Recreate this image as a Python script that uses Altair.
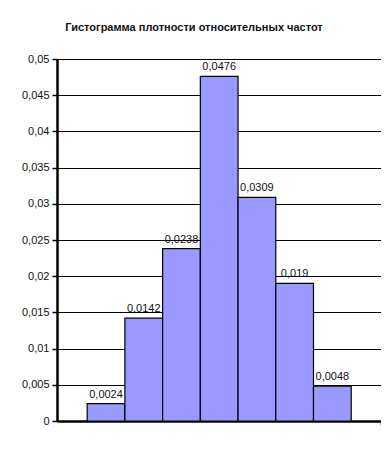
import altair as alt
import pandas as pd

bins = [1, 2, 3, 4, 5, 6, 7]
density = [0.0024, 0.0142, 0.0238, 0.0476, 0.0309, 0.019, 0.0048]
labels = ["0,0024", "0,0142", "0,0238", "0,0476", "0,0309", "0,019", "0,0048"]
y_ticks = [0, 0.005, 0.01, 0.015, 0.02, 0.025, 0.03, 0.035, 0.04, 0.045, 0.05]

df = pd.DataFrame({"bin": bins, "density": density, "label": labels})
df["start"] = df["bin"] - 1
df["end"] = df["bin"]
df["mid"] = df["bin"] - 0.5
df["zero"] = 0.0

FONT = "Liberation Sans"

xscale = alt.Scale(domain=[-0.8, 7.79], nice=False, zero=False)
yscale = alt.Scale(domain=[0, 0.05], nice=False, zero=False)

xaxis = alt.Axis(title=None, labels=False, grid=False, values=[7.79],
                 tickSize=4, tickColor="black", tickWidth=1.5,
                 domainColor="black", domainWidth=2.5)
yaxis = alt.Axis(title=None, values=y_ticks, labelOverlap=False,
                 labelExpr="replace(format(datum.value, '~g'), '.', ',')",
                 grid=True, gridColor="black", gridWidth=1, gridOpacity=1,
                 domainColor="black", domainWidth=2.5,
                 tickColor="black", tickSize=5, tickWidth=1.5,
                 labelFont=FONT, labelFontSize=11, labelColor="#111",
                 labelPadding=3)

base = alt.Chart(df)

bars = base.mark_bar(fill="#9999FF", stroke="black", strokeWidth=1.2).encode(
    x=alt.X("start:Q", scale=xscale, axis=xaxis),
    x2="end:Q",
    y=alt.Y("density:Q", scale=yscale, axis=yaxis),
    y2="zero:Q",
)

text = base.mark_text(baseline="bottom", dy=-4, font=FONT, fontSize=11, color="#111").encode(
    x=alt.X("mid:Q", scale=xscale, axis=xaxis),
    y=alt.Y("density:Q", scale=yscale, axis=yaxis),
    text="label:N",
)

chart = (bars + text).properties(
    width=324, height=362,
    padding={"left": 49, "top": 51, "right": 0, "bottom": 8},
    autosize=alt.AutoSizeParams(type="none"),
    title=alt.TitleParams("Гистограмма плотности относительных частот",
                          font=FONT, fontSize=11, fontWeight="bold", color="#111",
                          anchor="middle", dx=-25, offset=20),
).configure_view(stroke=None)

chart.save("out.html", embed_options={"renderer": "svg", "actions": False})
